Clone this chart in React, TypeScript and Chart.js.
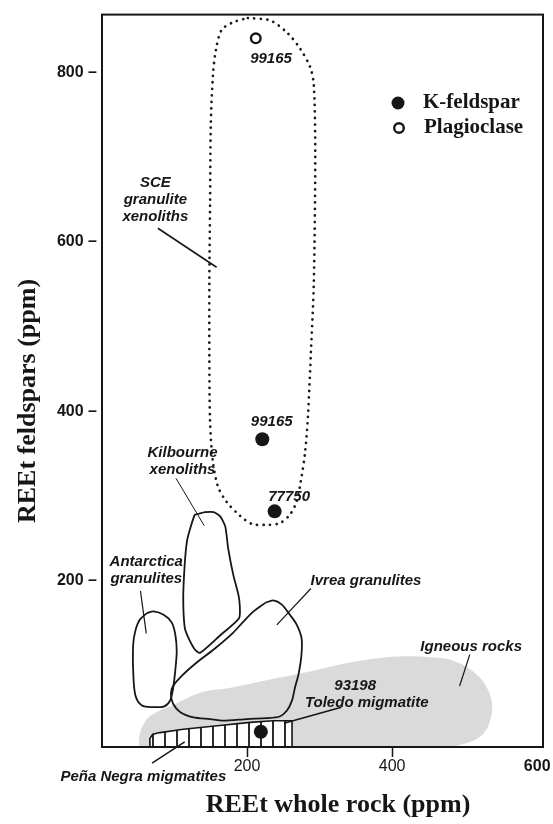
import React, { useEffect, useRef } from 'react';
import { Chart, registerables } from 'chart.js';

Chart.register(...registerables);

type Pt = [number, number];

// Feldspar analyses: total REE of the whole rock vs. total REE of the feldspar (ppm)
const kFeldsparSamples = ['99165', '77750', '93198'];
const kFeldsparWholeRock = [221, 238, 219];
const kFeldsparREEt = [367, 282, 22];

const plagioclaseSamples = ['99165'];
const plagioclaseWholeRock = [212];
const plagioclaseREEt = [840];

// Axis ticks
const xTickValues = [200, 400, 600];
const xTickLabels = ['200', '400', '600'];
const yTickValues = [200, 400, 600, 800];
const yTickLabels = ['200', '400', '600', '800'];

// Compositional fields (whole rock ppm, feldspar ppm)
const sceGranuliteXenoliths: Pt[] = [
  [201, 864], [232, 861], [256, 846], [273, 828], [287, 806], [292, 785], [294, 703],
  [292, 551], [288, 469], [284, 395], [280, 352], [274, 317], [268, 293], [259, 278],
  [245, 268], [225, 266], [207, 267], [190, 277], [172, 293], [160, 311], [153, 340],
  [149, 387], [148, 469], [148, 551], [149, 645], [150, 738], [153, 797], [157, 826],
  [165, 850], [181, 859],
];

const kilbourneXenoliths: Pt[] = [
  [133, 279], [142, 281], [154, 281], [163, 276], [170, 264], [174, 238], [181, 207],
  [188, 184], [190, 170], [189, 156], [162, 135], [135, 115], [128, 119], [119, 133],
  [114, 145], [112, 180], [114, 219], [117, 246], [121, 260], [128, 278],
];

const antarcticaGranulites: Pt[] = [
  [62, 162], [71, 164], [85, 160], [96, 151], [101, 137], [103, 117], [101, 94],
  [98, 73], [94, 59], [86, 52], [71, 51], [55, 53], [46, 65], [43, 94], [43, 125],
  [46, 141], [52, 154],
];

const ivreaGranulites: Pt[] = [
  [225, 174], [236, 177], [248, 172], [259, 160], [268, 149], [275, 133], [275, 113],
  [271, 90], [266, 74], [262, 59], [255, 47], [245, 40], [227, 38], [200, 37],
  [167, 35], [149, 37], [126, 39], [108, 45], [98, 55], [95, 67], [98, 76], [110, 88],
  [131, 104], [154, 119], [181, 139], [195, 152], [209, 164],
];

const igneousRocks: Pt[] = [
  [52, 2], [51, 14], [55, 27], [63, 38], [77, 46], [97, 53], [135, 68], [177, 74],
  [222, 82], [291, 94], [338, 103], [383, 109], [418, 111], [452, 110], [480, 107],
  [507, 96], [528, 78], [538, 53], [532, 28], [518, 14], [496, 7], [466, 2],
];

const penaNegraMigmatites: Pt[] = [
  [66, 2], [66, 14], [70, 19], [80, 21], [112, 25], [159, 29], [204, 33], [236, 35],
  [262, 35], [262, 2],
];

// Leader lines from field names to their fields
const sceLeader: Pt[] = [[77, 616], [158, 570]];
const kilbourneLeader: Pt[] = [[102, 321], [141, 265]];
const antarcticaLeader: Pt[] = [[53, 188], [61, 138]];
const ivreaLeader: Pt[] = [[288, 191], [241, 148]];
const igneousLeader: Pt[] = [[507, 113], [493, 76]];
const toledoLeader: Pt[] = [[330, 51], [251, 32]];
const penaNegraLeader: Pt[] = [[69, -15], [114, 10]];

// Field and sample names, anchored in data units
const fieldLabels = [
  { lines: ['SCE', 'granulite', 'xenoliths'], x: 73.5, y: 650 },
  { lines: [plagioclaseSamples[0]], x: 233, y: 816 },
  { lines: [kFeldsparSamples[0]], x: 234, y: 388 },
  { lines: [kFeldsparSamples[1]], x: 258, y: 299 },
  { lines: ['Kilbourne', 'xenoliths'], x: 111, y: 341 },
  { lines: ['Antarctica', 'granulites'], x: 61, y: 212 },
  { lines: ['Ivrea granulites'], x: 364, y: 200 },
  { lines: ['Igneous rocks'], x: 509, y: 122 },
  { lines: [kFeldsparSamples[2]], x: 349, y: 76 },
  { lines: ['Toledo migmatite'], x: 365, y: 56 },
  { lines: ['Peña Negra migmatites'], x: 57, y: -31 },
];

const INK = '#161616';
const SERIF = '"Liberation Serif", "Times New Roman", serif';
const SANS = '"Liberation Sans", Arial, sans-serif';

const toXY = (pts: Pt[], close = false) => {
  const arr = pts.map(([x, y]) => ({ x, y }));
  if (close) arr.push({ x: pts[0][0], y: pts[0][1] });
  return arr;
};

function makeHatch(): CanvasPattern | string {
  const c = document.createElement('canvas');
  c.width = 12;
  c.height = 12;
  const g = c.getContext('2d');
  if (!g) return '#fff';
  g.fillStyle = '#ffffff';
  g.fillRect(0, 0, 12, 12);
  g.strokeStyle = INK;
  g.lineWidth = 1.8;
  g.beginPath();
  g.moveTo(9, 0);
  g.lineTo(9, 12);
  g.stroke();
  return g.createPattern(c, 'repeat') || '#fff';
}

const frameAndTextPlugin = {
  id: 'frameAndText',
  afterDatasetsDraw(chart: any) {
    const { ctx, chartArea: a, scales } = chart;
    const xs = scales.x;
    const ys = scales.y;

    ctx.save();
    // plot frame
    ctx.strokeStyle = INK;
    ctx.lineWidth = 2;
    ctx.strokeRect(a.left, a.top, a.right - a.left, a.bottom - a.top);

    // field names
    ctx.fillStyle = INK;
    ctx.font = `italic bold 15px ${SANS}`;
    ctx.textAlign = 'center';
    ctx.textBaseline = 'middle';
    const lh = 17;
    for (const lab of fieldLabels) {
      const px = xs.getPixelForValue(lab.x);
      const py = ys.getPixelForValue(lab.y);
      const y0 = py - ((lab.lines.length - 1) * lh) / 2;
      lab.lines.forEach((t, i) => ctx.fillText(t, px, y0 + i * lh));
    }

    // legend
    const lx = a.left + 296;
    ctx.font = `bold 21px ${SERIF}`;
    ctx.textAlign = 'left';
    ctx.beginPath();
    ctx.arc(lx, 103, 6.5, 0, Math.PI * 2);
    ctx.fill();
    ctx.fillText('K-feldspar', lx + 25, 103);
    ctx.beginPath();
    ctx.arc(lx + 1, 128, 4.8, 0, Math.PI * 2);
    ctx.lineWidth = 2.4;
    ctx.stroke();
    ctx.fillText('Plagioclase', lx + 26, 128);

    // axis titles
    ctx.font = `bold 26px ${SERIF}`;
    ctx.textAlign = 'center';
    ctx.fillText('REEt whole rock (ppm)', 338, 805);
    ctx.translate(28, 401);
    ctx.rotate(-Math.PI / 2);
    ctx.fillText('REEt feldspars (ppm)', 0, 0);
    ctx.restore();
  },
};

export default function App() {
  const ref = useRef<HTMLCanvasElement>(null);

  useEffect(() => {
    const canvas = ref.current;
    if (!canvas) return;
    const hatch = makeHatch();

    const outline = (pts: Pt[], extra: any = {}) => ({
      type: 'scatter',
      data: toXY(pts, true),
      showLine: true,
      pointRadius: 0,
      pointHoverRadius: 0,
      borderColor: INK,
      borderWidth: 1.8,
      fill: false,
      tension: 0.25,
      order: 5,
      ...extra,
    });
    const leader = (pts: Pt[], extra: any = {}) => ({
      type: 'scatter',
      data: toXY(pts),
      showLine: true,
      pointRadius: 0,
      pointHoverRadius: 0,
      borderColor: INK,
      borderWidth: 1.2,
      fill: false,
      order: 3,
      ...extra,
    });

    const chart = new Chart(canvas, {
      type: 'scatter',
      data: {
        datasets: [
          {
            label: 'K-feldspar',
            data: kFeldsparWholeRock.map((x, i) => ({ x, y: kFeldsparREEt[i] })),
            pointRadius: 7,
            pointBackgroundColor: INK,
            pointBorderColor: INK,
            pointBorderWidth: 0,
            order: 0,
          },
          {
            label: 'Plagioclase',
            data: plagioclaseWholeRock.map((x, i) => ({ x, y: plagioclaseREEt[i] })),
            pointRadius: 4.8,
            pointBackgroundColor: '#ffffff',
            pointBorderColor: INK,
            pointBorderWidth: 2.4,
            order: 0,
          },
          outline(igneousRocks, {
            label: 'Igneous rocks',
            borderWidth: 0,
            borderColor: 'rgba(0,0,0,0)',
            backgroundColor: '#dadada',
            fill: 'shape',
            tension: 0.35,
            order: 20,
          }),
          outline(penaNegraMigmatites, {
            label: 'Peña Negra migmatites',
            backgroundColor: hatch,
            fill: 'shape',
            borderWidth: 1.6,
            tension: 0,
            order: 15,
          }),
          outline(antarcticaGranulites, { label: 'Antarctica granulites', tension: 0.3 }),
          outline(kilbourneXenoliths, { label: 'Kilbourne xenoliths', tension: 0.2 }),
          outline(ivreaGranulites, { label: 'Ivrea granulites', tension: 0.25 }),
          outline(sceGranuliteXenoliths, {
            label: 'SCE granulite xenoliths',
            borderWidth: 2.7,
            borderDash: [0.1, 6.4],
            borderCapStyle: 'round',
            borderColor: '#1c1c1c',
            tension: 0.3,
          }),
          leader(sceLeader, { borderWidth: 1.6 }),
          leader(kilbourneLeader, { borderWidth: 1 }),
          leader(antarcticaLeader),
          leader(ivreaLeader),
          leader(igneousLeader),
          leader(toledoLeader, { borderWidth: 1.5 }),
          leader(penaNegraLeader, { borderWidth: 1.5, clip: false }),
        ] as any,
      },
      options: {
        responsive: false,
        animation: false,
        events: [],
        devicePixelRatio: 1,
        layout: { padding: { top: 9, right: 10, left: 0, bottom: 0 } },
        plugins: {
          legend: { display: false },
          tooltip: { enabled: false },
        },
        scales: {
          x: {
            type: 'linear',
            min: 0,
            max: 608,
            afterBuildTicks: (s: any) => {
              s.ticks = xTickValues.map((value) => ({ value }));
            },
            afterFit: (s: any) => {
              s.height = 77;
            },
            border: { display: false },
            grid: {
              drawOnChartArea: false,
              drawTicks: true,
              tickLength: 10,
              tickWidth: 1.5,
              tickColor: (c: any) => (c.tick && c.tick.value === 600 ? 'rgba(0,0,0,0)' : INK),
            },
            ticks: {
              autoSkip: false,
              maxRotation: 0,
              padding: 0,
              color: INK,
              font: (c: any) => ({
                family: SANS,
                size: 16,
                weight: c.tick && c.tick.value === 600 ? 'bold' : 'normal',
              }),
              callback: (v: any) => xTickLabels[xTickValues.indexOf(Number(v))] ?? '',
            },
          },
          y: {
            type: 'linear',
            min: 4,
            max: 868,
            afterBuildTicks: (s: any) => {
              s.ticks = yTickValues.map((value) => ({ value }));
            },
            afterFit: (s: any) => {
              s.width = 102;
            },
            border: { display: false },
            grid: { display: false, drawTicks: false },
            ticks: {
              autoSkip: false,
              padding: 5,
              color: INK,
              font: { family: SANS, size: 16, weight: 'bold' },
              callback: (v: any) => {
                const t = yTickLabels[yTickValues.indexOf(Number(v))];
                return t ? `${t} –` : '';
              },
            },
          },
        },
      } as any,
      plugins: [frameAndTextPlugin],
    });

    return () => chart.destroy();
  }, []);

  return (
    <div style={{ position: 'fixed', left: 0, top: 0, width: 553, height: 824, background: '#ffffff' }}>
      <canvas ref={ref} width={553} height={824} style={{ display: 'block', width: 553, height: 824 }} />
    </div>
  );
}
